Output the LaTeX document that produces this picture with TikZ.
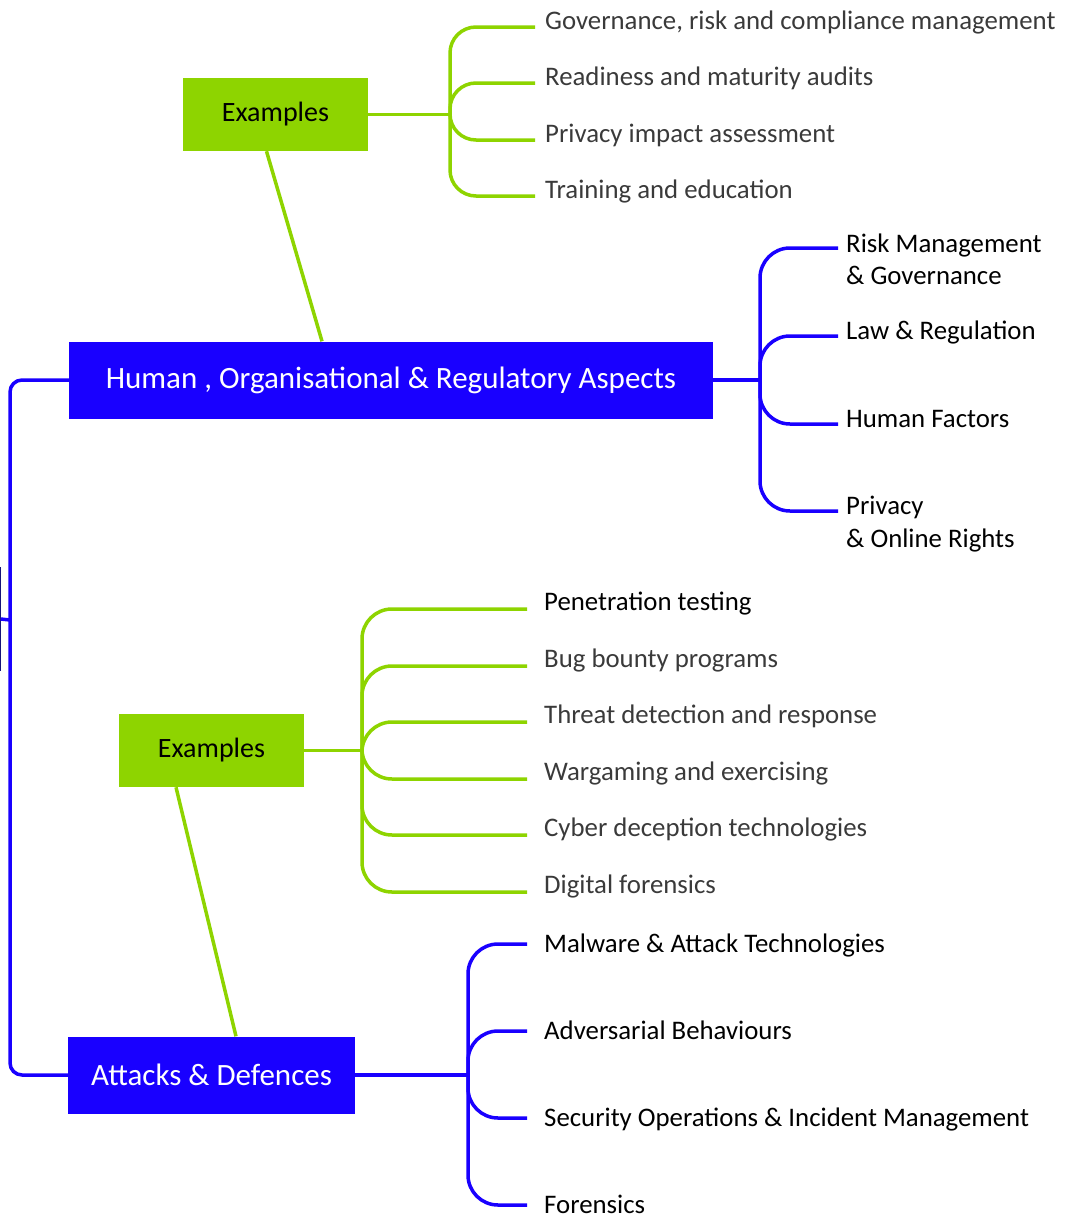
\documentclass[tikz,border=0pt]{standalone}
\usepackage{fontspec}
\setmainfont{Carlito}
\definecolor{bl}{HTML}{1900FF}
\definecolor{gr}{HTML}{8ED400}
\definecolor{tx}{HTML}{3A3A3A}
\definecolor{nv}{HTML}{14147A}

\begin{document}
\begin{tikzpicture}[x=1pt,y=-1pt,inner sep=0pt,
  gline/.style={draw=gr,line width=3.5pt},
  bline/.style={draw=bl,line width=3.5pt},
  gbox/.style={fill=gr,minimum width=185pt,minimum height=73pt,font=\fontsize{28}{34}\selectfont},
  bbox/.style={fill=bl,text=white,minimum height=77pt,font=\fontsize{31}{36}\selectfont},
  item/.style={anchor=base west,align=left,font=\fontsize{26.8}{32.5}\selectfont}]
\useasboundingbox (0,0) rectangle (1069,1218);
\clip (0,0) rectangle (1069,1218);

% main boxes
\node[draw=nv,line width=1.5pt,fill=white,minimum width=100pt,minimum height=102pt] (root) at (-50,619) {};
\node[bbox,minimum width=644pt] (hum) at (391,380) {Human , Organisational \& Regulatory Aspects};
\node[bbox,minimum width=287pt] (att) at (211.5,1075) {Attacks \& Defences};
\node[gbox] (ex1) at (275.5,114.5) {Examples};
\node[gbox] (ex2) at (211.5,750.5) {Examples};

% spine
\coordinate (j0) at (10,620);
\draw[bline] (root.east) -- (j0);
\draw[bline,rounded corners=12pt] (j0) |- (hum.west);
\draw[bline,rounded corners=12pt] (j0) |- (att.west);
\draw[gline] ([xshift=-9pt]ex1.south) -- ([xshift=-69pt]hum.north);
\draw[gline] ([xshift=-35.5pt]ex2.south) -- ([xshift=24.5pt]att.north);

% examples (top)
\coordinate (j1) at (450,0 |- ex1.east);
\draw[gline] (ex1.east) -- (j1);
\foreach \y/\t [count=\i] in {27/{Governance, risk and compliance management},
  83/{Readiness and maturity audits},140/{Privacy impact assessment},196/{Training and education}} {
  \coordinate (a\i) at (535,\y);
  \node[item,text=tx] (at\i) at ([xshift=10pt,yshift=-2pt]a\i) {\t};
  \draw[gline,rounded corners=26pt] (j1) |- (a\i);
}

% knowledge areas (human)
\coordinate (j2) at (760,0 |- hum.east);
\draw[bline] (hum.east) -- (j2);
\foreach \y/\t/\s [count=\i] in {248/{Risk Management\\\& Governance}/36.5,336/{Law \& Regulation}/3,
  424/{Human Factors}/3,511/{Privacy\\\& Online Rights}/36} {
  \coordinate (b\i) at (838,\y);
  \node[item] (bt\i) at ([xshift=8pt,yshift=-\s pt]b\i) {\t};
  \draw[bline,rounded corners=30pt] (j2) |- (b\i);
}

% examples (lower)
\coordinate (j3) at (362,0 |- ex2.east);
\draw[gline] (ex2.east) -- (j3);
\foreach \y/\t/\c [count=\i] in {609/{Penetration testing}/black,666/{Bug bounty programs}/tx,
  722/{Threat detection and response}/tx,779/{Wargaming and exercising}/tx,
  835/{Cyber deception technologies}/tx,892/{Digital forensics}/tx} {
  \coordinate (c\i) at (527,\y);
  \node[item,text=\c] (ct\i) at ([xshift=17pt,yshift=-1.5pt]c\i) {\t};
  \draw[gline,rounded corners=30pt] (j3) |- (c\i);
}

% knowledge areas (attacks)
\coordinate (j4) at (468,0 |- att.east);
\draw[bline] (att.east) -- (j4);
\foreach \y/\t [count=\i] in {944/{Malware \& Attack Technologies},1031/{Adversarial Behaviours},
  1118/{Security Operations \& Incident Management},1205/{Forensics}} {
  \coordinate (d\i) at (527,\y);
  \node[item] (dt\i) at ([xshift=17pt,yshift=-8pt]d\i) {\t};
  \draw[bline,rounded corners=30pt] (j4) |- (d\i);
}
\end{tikzpicture}
\end{document}
